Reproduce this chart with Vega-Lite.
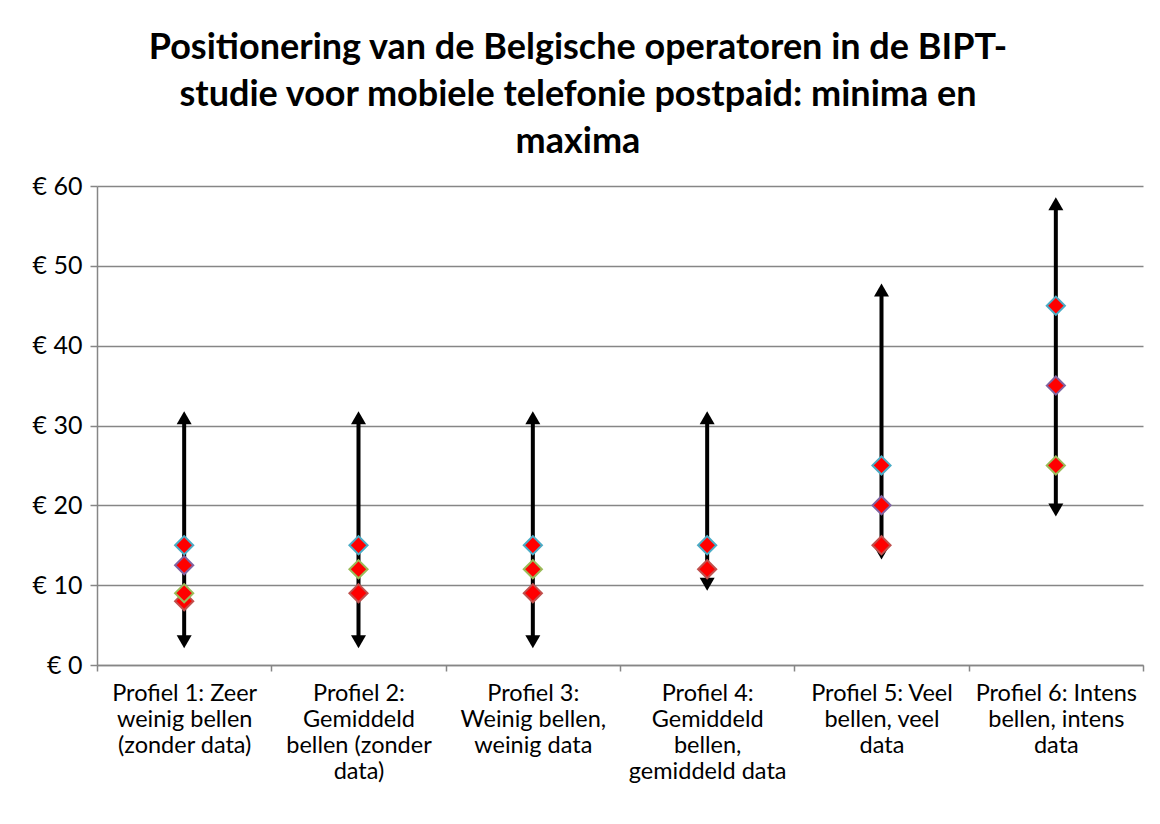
{
  "$schema": "https://vega.github.io/schema/vega-lite/v6.json",
  "width": 1046,
  "height": 479,
  "autosize": {"type": "none"},
  "padding": {"left": 97, "top": 186, "right": 17, "bottom": 159},
  "background": "white",
  "config": {
    "view": {"stroke": null},
    "font": "Lato"
  },
  "title": {
    "text": ["Positionering van de Belgische operatoren in de BIPT-", "studie voor mobiele telefonie postpaid: minima en", "maxima"],
    "fontSize": 36,
    "fontWeight": "bold",
    "font": "Lato",
    "color": "black",
    "lineHeight": 47,
    "anchor": "middle",
    "dx": -42,
    "offset": 13
  },
  "datasets": {
    "ranges": [
      {"profiel": "Profiel 1: Zeer weinig bellen (zonder data)", "min": 2.1, "max": 31.8},
      {"profiel": "Profiel 2: Gemiddeld bellen (zonder data)", "min": 2.1, "max": 31.8},
      {"profiel": "Profiel 3: Weinig bellen, weinig data", "min": 2.1, "max": 31.8},
      {"profiel": "Profiel 4: Gemiddeld bellen, gemiddeld data", "min": 9.3, "max": 31.8},
      {"profiel": "Profiel 5: Veel bellen, veel data", "min": 13.2, "max": 47.8},
      {"profiel": "Profiel 6: Intens bellen, intens data", "min": 18.6, "max": 58.6}
    ],
    "points": [
      {"profiel": "Profiel 1: Zeer weinig bellen (zonder data)", "reeks": "rood", "prijs": 8},
      {"profiel": "Profiel 2: Gemiddeld bellen (zonder data)", "reeks": "rood", "prijs": 9},
      {"profiel": "Profiel 3: Weinig bellen, weinig data", "reeks": "rood", "prijs": 9},
      {"profiel": "Profiel 4: Gemiddeld bellen, gemiddeld data", "reeks": "rood", "prijs": 12},
      {"profiel": "Profiel 5: Veel bellen, veel data", "reeks": "rood", "prijs": 15},
      {"profiel": "Profiel 1: Zeer weinig bellen (zonder data)", "reeks": "groen", "prijs": 9},
      {"profiel": "Profiel 2: Gemiddeld bellen (zonder data)", "reeks": "groen", "prijs": 12},
      {"profiel": "Profiel 3: Weinig bellen, weinig data", "reeks": "groen", "prijs": 12},
      {"profiel": "Profiel 6: Intens bellen, intens data", "reeks": "groen", "prijs": 25},
      {"profiel": "Profiel 1: Zeer weinig bellen (zonder data)", "reeks": "paars", "prijs": 12.5},
      {"profiel": "Profiel 5: Veel bellen, veel data", "reeks": "paars", "prijs": 20},
      {"profiel": "Profiel 6: Intens bellen, intens data", "reeks": "paars", "prijs": 35},
      {"profiel": "Profiel 1: Zeer weinig bellen (zonder data)", "reeks": "blauw", "prijs": 15},
      {"profiel": "Profiel 2: Gemiddeld bellen (zonder data)", "reeks": "blauw", "prijs": 15},
      {"profiel": "Profiel 3: Weinig bellen, weinig data", "reeks": "blauw", "prijs": 15},
      {"profiel": "Profiel 4: Gemiddeld bellen, gemiddeld data", "reeks": "blauw", "prijs": 15},
      {"profiel": "Profiel 5: Veel bellen, veel data", "reeks": "blauw", "prijs": 25},
      {"profiel": "Profiel 6: Intens bellen, intens data", "reeks": "blauw", "prijs": 45}
    ]
  },
  "encoding": {
    "x": {
      "field": "profiel",
      "type": "nominal",
      "sort": null,
      "scale": {"paddingInner": 0, "paddingOuter": 0, "domain": [
        "Profiel 1: Zeer weinig bellen (zonder data)",
        "Profiel 2: Gemiddeld bellen (zonder data)",
        "Profiel 3: Weinig bellen, weinig data",
        "Profiel 4: Gemiddeld bellen, gemiddeld data",
        "Profiel 5: Veel bellen, veel data",
        "Profiel 6: Intens bellen, intens data"
      ]},
      "axis": {
        "title": null,
        "labelAngle": 0,
        "tickBand": "extent",
        "tickSize": 6,
        "tickColor": "#868686",
        "tickWidth": 1.5,
        "domainColor": "#868686",
        "domainWidth": 1.5,
        "labelFont": "Lato",
        "labelFontSize": 23.5,
        "labelColor": "black",
        "labelLineHeight": 26,
        "labelPadding": 10,
        "labelBaseline": "top",
        "labelLimit": 0,
        "grid": false,
        "labelExpr": "({'Profiel 1: Zeer weinig bellen (zonder data)': ['Profiel 1: Zeer', 'weinig bellen', '(zonder data)'], 'Profiel 2: Gemiddeld bellen (zonder data)': ['Profiel 2:', 'Gemiddeld', 'bellen (zonder', 'data)'], 'Profiel 3: Weinig bellen, weinig data': ['Profiel 3:', 'Weinig bellen,', 'weinig data'], 'Profiel 4: Gemiddeld bellen, gemiddeld data': ['Profiel 4:', 'Gemiddeld', 'bellen,', 'gemiddeld data'], 'Profiel 5: Veel bellen, veel data': ['Profiel 5: Veel', 'bellen, veel', 'data'], 'Profiel 6: Intens bellen, intens data': ['Profiel 6: Intens', 'bellen, intens', 'data']})[datum.label]"
      }
    }
  },
  "layer": [
    {
      "data": {"name": "ranges"},
      "mark": {"type": "rule", "color": "black", "strokeWidth": 4, "yOffset": -8, "y2Offset": 8},
      "encoding": {
        "y": {
          "field": "min",
          "type": "quantitative",
          "scale": {"domain": [0, 60], "nice": false},
          "axis": {
            "title": null,
            "values": [0, 10, 20, 30, 40, 50, 60],
            "labelExpr": "'€ ' + datum.value",
            "grid": true,
            "gridColor": "#868686",
            "gridWidth": 1.5,
            "tickColor": "#868686",
            "tickWidth": 1.5,
            "tickSize": 7,
            "domainColor": "#868686",
            "domainWidth": 1.5,
            "labelFont": "Lato",
            "labelFontSize": 25,
            "labelColor": "black",
            "labelPadding": 8
          }
        },
        "y2": {"field": "max"}
      }
    },
    {
      "data": {"name": "ranges"},
      "mark": {"type": "point", "shape": "triangle-up", "filled": true, "color": "black", "size": 225, "opacity": 1, "yOffset": 6.5},
      "encoding": {"y": {"field": "max", "type": "quantitative"}}
    },
    {
      "data": {"name": "ranges"},
      "mark": {"type": "point", "shape": "triangle-down", "filled": true, "color": "black", "size": 225, "opacity": 1, "yOffset": -6.5},
      "encoding": {"y": {"field": "min", "type": "quantitative"}}
    },
    {
      "data": {"name": "points"},
      "mark": {"type": "point", "shape": "diamond", "filled": true, "fill": "#FF0000", "size": 330, "strokeWidth": 2, "opacity": 1},
      "encoding": {
        "y": {"field": "prijs", "type": "quantitative"},
        "stroke": {
          "field": "reeks",
          "type": "nominal",
          "scale": {"domain": ["blauw", "paars", "groen", "rood"], "range": ["#4BACC6", "#8064A2", "#9BBB59", "#C0504D"]},
          "legend": null
        }
      }
    }
  ]
}
